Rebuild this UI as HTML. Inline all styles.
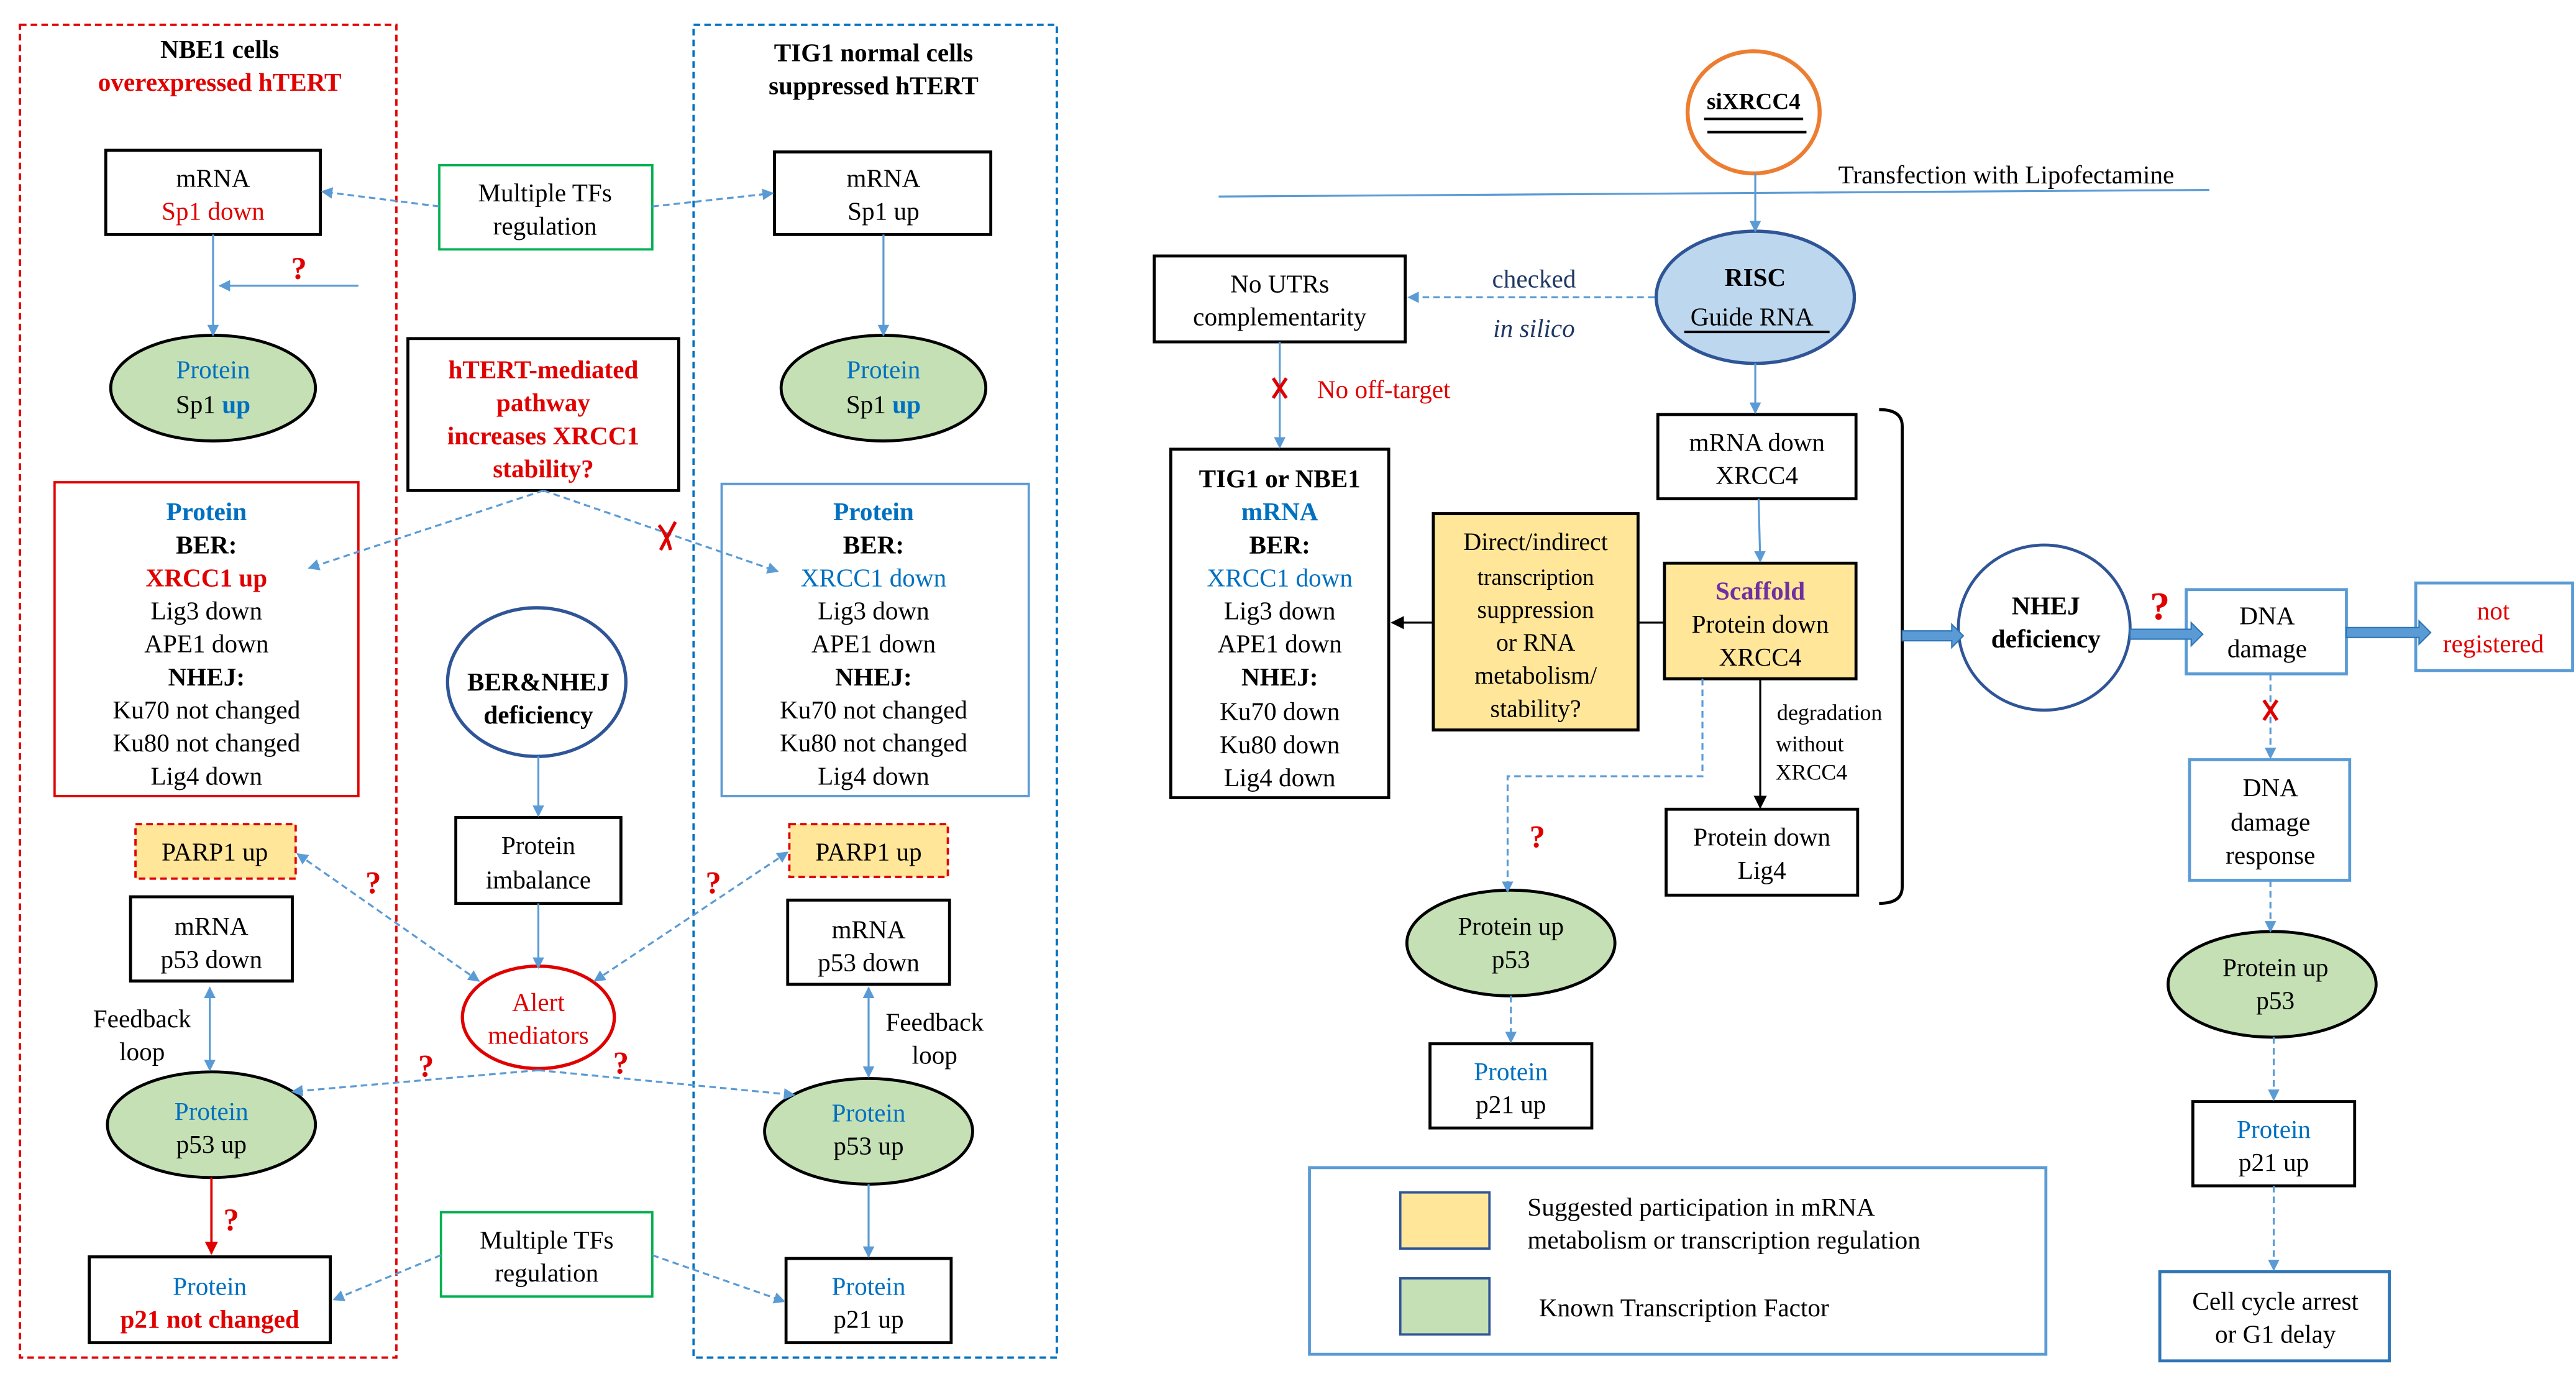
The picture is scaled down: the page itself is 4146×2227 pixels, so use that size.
<!DOCTYPE html>
<html><head><meta charset="utf-8"><style>
html,body{margin:0;padding:0;background:#fff;}
svg{display:block;}
text{font-family:"Liberation Serif",serif;font-size:15.5px;text-anchor:middle;fill:#000;}
.b{font-weight:bold;}
.r{fill:#e00000;}
.bl{fill:#0070c0;}
.q{fill:#e00000;font-weight:bold;font-size:19px;}
</style></head><body>
<svg width="4146" height="2227" viewBox="0 0 1560 838" xmlns="http://www.w3.org/2000/svg">
<defs>
<marker id="a" viewBox="0 0 10 10" refX="9" refY="5" markerWidth="7" markerHeight="7" markerUnits="userSpaceOnUse" orient="auto-start-reverse"><path d="M0,0L10,5L0,10z" fill="#5b9bd5"/></marker>
<marker id="ar" viewBox="0 0 10 10" refX="9" refY="5" markerWidth="8" markerHeight="8" markerUnits="userSpaceOnUse" orient="auto"><path d="M0,0L10,5L0,10z" fill="#e00000"/></marker>
<marker id="ak" viewBox="0 0 10 10" refX="9" refY="5" markerWidth="8" markerHeight="8" markerUnits="userSpaceOnUse" orient="auto"><path d="M0,0L10,5L0,10z" fill="#000"/></marker>
</defs>
<rect width="1560" height="838" fill="#fff"/>
<g fill="none" stroke-width="1.4">
<rect x="12" y="15" width="228" height="807" stroke="#e00000" stroke-dasharray="4,2.5"/>
<rect x="420" y="15" width="220" height="807" stroke="#0070c0" stroke-dasharray="4,2.5"/>
</g>
<text x="133" y="35" class="b">NBE1 cells</text>
<text x="133" y="55" class="b r">overexpressed hTERT</text>
<text x="529" y="37" class="b">TIG1 normal cells</text>
<text x="529" y="57" class="b">suppressed hTERT</text>

<g stroke="#000" stroke-width="1.8" fill="#fff">
<rect x="64" y="91" width="130" height="51"/>
<rect x="469" y="92" width="131" height="50"/>
<rect x="247" y="205" width="164" height="92"/>
<rect x="79" y="543" width="98" height="51"/>
<rect x="276" y="495" width="100" height="52"/>
<rect x="477" y="545" width="98" height="51"/>
<rect x="54" y="761" width="146" height="52"/>
<rect x="476" y="762" width="100" height="51"/>
<rect x="699" y="155" width="152" height="52"/>
<rect x="709" y="272" width="132" height="211"/>
<rect x="1004" y="251" width="120" height="51"/>
<rect x="1009" y="490" width="116" height="52"/>
<rect x="866" y="632" width="98" height="51"/>
</g>
<g stroke-width="1.8">
<rect x="868" y="311" width="124" height="131" fill="#ffe699" stroke="#000"/>
<rect x="1008" y="341" width="116" height="70" fill="#ffe699" stroke="#000"/>
<ellipse cx="129" cy="235" rx="62" ry="32" fill="#c5e0b4" stroke="#000"/>
<ellipse cx="535" cy="235" rx="62" ry="32" fill="#c5e0b4" stroke="#000"/>
<ellipse cx="128" cy="681" rx="63" ry="32" fill="#c5e0b4" stroke="#000"/>
<ellipse cx="526" cy="685" rx="63" ry="32" fill="#c5e0b4" stroke="#000"/>
<ellipse cx="915" cy="571" rx="63" ry="32" fill="#c5e0b4" stroke="#000"/>
<ellipse cx="1376" cy="596" rx="63" ry="32" fill="#c5e0b4" stroke="#000"/>
</g>
<g stroke-width="1.4" fill="none">
<rect x="266" y="100" width="129" height="51" stroke="#00b050"/>
<rect x="267" y="734" width="128" height="51" stroke="#00b050"/>
<rect x="33" y="292" width="184" height="190" stroke="#e00000"/>
<rect x="437" y="293" width="186" height="189" stroke="#5b9bd5"/>
<rect x="82" y="499" width="97" height="33" stroke="#e00000" fill="#ffe699" stroke-dasharray="4,2.5"/>
<rect x="478" y="499" width="96" height="32" stroke="#e00000" fill="#ffe699" stroke-dasharray="4,2.5"/>
<ellipse cx="325" cy="413" rx="54" ry="45" stroke="#2f5597" stroke-width="2"/>
<ellipse cx="326" cy="616" rx="46" ry="31" stroke="#e00000" stroke-width="2"/>
<ellipse cx="1062" cy="68" rx="40" ry="37" stroke="#ed7d31" stroke-width="2.4"/>
<ellipse cx="1063" cy="180" rx="60" ry="40" stroke="#2f5597" stroke-width="2" fill="#bdd7ee"/>
<ellipse cx="1238" cy="380" rx="52" ry="50" stroke="#2f5597" stroke-width="1.8"/>
<rect x="1324" y="357" width="97" height="51" stroke="#5b9bd5" stroke-width="1.8"/>
<rect x="1463" y="353" width="95" height="53" stroke="#5b9bd5" stroke-width="1.8"/>
<rect x="1326" y="460" width="97" height="73" stroke="#5b9bd5" stroke-width="1.8"/>
<rect x="1328" y="667" width="98" height="51" stroke="#000" stroke-width="1.8"/>
<rect x="1308" y="770" width="139" height="54" stroke="#2e75b6" stroke-width="1.8"/>
<rect x="793" y="707" width="446" height="113" stroke="#5b9bd5" stroke-width="1.8"/>
<rect x="848" y="722" width="54" height="34" stroke="#2f5597" fill="#ffe699"/>
<rect x="848" y="774" width="54" height="34" stroke="#2f5597" fill="#c5e0b4"/>
</g>

<!-- solid blue arrows -->
<g stroke="#5b9bd5" stroke-width="1.2" fill="none" marker-end="url(#a)">
<line x1="129" y1="142" x2="129" y2="203"/>
<line x1="217" y1="173" x2="133" y2="173"/>
<line x1="535" y1="142" x2="535" y2="203"/>
<line x1="326" y1="458" x2="326" y2="494"/>
<line x1="326" y1="547" x2="326" y2="586"/>
<line x1="526" y1="717" x2="526" y2="761"/>
<line x1="1063" y1="105" x2="1063" y2="140"/>
<line x1="1063" y1="220" x2="1063" y2="250"/>
<line x1="1065" y1="302" x2="1066" y2="340"/>
<line x1="775" y1="207" x2="775" y2="271"/>
<line x1="127" y1="598" x2="127" y2="648" marker-start="url(#a)"/>
<line x1="526" y1="598" x2="526" y2="652" marker-start="url(#a)"/>
</g>
<line x1="738" y1="119" x2="1338" y2="115" stroke="#5b9bd5" stroke-width="1.2"/>
<!-- dashed blue arrows -->
<g stroke="#5b9bd5" stroke-width="1.2" fill="none" stroke-dasharray="4,2.5" marker-end="url(#a)">
<line x1="266" y1="125" x2="195" y2="116"/>
<line x1="395" y1="125" x2="468" y2="117"/>
<line x1="329" y1="297" x2="187" y2="344"/>
<line x1="329" y1="297" x2="471" y2="346"/>
<line x1="290" y1="594" x2="180" y2="517" marker-start="url(#a)"/>
<line x1="360" y1="594" x2="477" y2="516" marker-start="url(#a)"/>
<line x1="326" y1="648" x2="177" y2="661"/>
<line x1="326" y1="648" x2="481" y2="663"/>
<line x1="267" y1="760" x2="202" y2="787"/>
<line x1="395" y1="760" x2="475" y2="788"/>
<line x1="1002" y1="180" x2="853" y2="180"/>
<polyline points="1031,411 1031,470 913,470 913,540"/>
<line x1="915" y1="603" x2="915" y2="631"/>
<line x1="1375" y1="408" x2="1375" y2="459"/>
<line x1="1375" y1="533" x2="1375" y2="564"/>
<line x1="1377" y1="628" x2="1377" y2="666"/>
<line x1="1377" y1="718" x2="1377" y2="769"/>
</g>
<line x1="128" y1="713" x2="128" y2="759" stroke="#e00000" stroke-width="1.4" marker-end="url(#ar)"/>
<g stroke="#000" stroke-width="1.2" fill="none">
<line x1="1008" y1="377" x2="992" y2="377"/>
<line x1="868" y1="377" x2="843" y2="377" marker-end="url(#ak)"/>
<line x1="1066" y1="411" x2="1066" y2="489" marker-end="url(#ak)"/>
<path d="M1138,248 Q1152,248 1152,258 L1152,537 Q1152,547 1138,547" stroke-width="1.8"/>
<line x1="1032" y1="72" x2="1092" y2="72" stroke-width="1.5"/>
<line x1="1034" y1="80" x2="1094" y2="80" stroke-width="1.5"/>
<line x1="1020" y1="201" x2="1108" y2="201" stroke-width="1.5"/>
</g>
<!-- thick arrows -->
<g fill="#5b9bd5" stroke="#2e75b6" stroke-width="0.8">
<path d="M1152,382 L1182,382 L1182,378 L1189,385 L1182,392 L1182,388 L1152,388z"/>
<path d="M1290,381 L1327,381 L1327,377 L1334,384 L1327,391 L1327,387 L1290,387z"/>
<path d="M1421,380 L1465,380 L1465,376 L1472,383 L1465,390 L1465,386 L1421,386z"/>
</g>
<!-- red X marks -->
<g stroke="#e00000" stroke-width="2">
<line x1="400" y1="333" x2="409" y2="316"/><path d="M399,318 Q404,324 406,333" fill="none"/>
<line x1="771" y1="229" x2="779" y2="241"/><line x1="779" y1="229" x2="771" y2="241"/>
<line x1="1371" y1="424" x2="1379" y2="436"/><line x1="1379" y1="424" x2="1371" y2="436"/>
</g>
<text x="181" y="169" class="q">?</text>
<text x="226" y="541" class="q">?</text>
<text x="432" y="541" class="q">?</text>
<text x="258" y="652" class="q">?</text>
<text x="376" y="650" class="q">?</text>
<text x="140" y="745" class="q">?</text>
<text x="931" y="513" class="q">?</text>
<text x="1308" y="375" class="q" style="font-size:24px">?</text>

<text x="129" y="113">mRNA</text><text x="129" y="133" class="r">Sp1 down</text>
<text x="535" y="113">mRNA</text><text x="535" y="133">Sp1 up</text>
<text x="330" y="122">Multiple TFs</text><text x="330" y="142">regulation</text>
<text x="129" y="229" class="bl">Protein</text><text x="129" y="250">Sp1 <tspan class="b bl">up</tspan></text>
<text x="535" y="229" class="bl">Protein</text><text x="535" y="250">Sp1 <tspan class="b bl">up</tspan></text>
<g class="b r"><text x="329" y="229" class="b r">hTERT-mediated</text><text x="329" y="249" class="b r">pathway</text><text x="329" y="269" class="b r">increases XRCC1</text><text x="329" y="289" class="b r">stability?</text></g>
<text x="125" y="315" class="b bl">Protein</text><text x="125" y="335" class="b">BER:</text><text x="125" y="355" class="b r">XRCC1  up</text>
<text x="125" y="375">Lig3  down</text><text x="125" y="395">APE1  down</text><text x="125" y="415" class="b">NHEJ:</text>
<text x="125" y="435">Ku70  not changed</text><text x="125" y="455">Ku80 not changed</text><text x="125" y="475">Lig4 down</text>
<text x="529" y="315" class="b bl">Protein</text><text x="529" y="335" class="b">BER:</text><text x="529" y="355" class="bl">XRCC1  down</text>
<text x="529" y="375">Lig3  down</text><text x="529" y="395">APE1  down</text><text x="529" y="415" class="b">NHEJ:</text>
<text x="529" y="435">Ku70 not changed</text><text x="529" y="455">Ku80 not changed</text><text x="529" y="475">Lig4 down</text>
<text x="326" y="418" class="b">BER&amp;NHEJ</text><text x="326" y="438" class="b">deficiency</text>
<text x="130" y="521">PARP1 up</text><text x="526" y="521">PARP1 up</text>
<text x="326" y="517">Protein</text><text x="326" y="538">imbalance</text>
<text x="128" y="566">mRNA</text><text x="128" y="586">p53 down</text>
<text x="526" y="568">mRNA</text><text x="526" y="588">p53 down</text>
<text x="86" y="622">Feedback</text><text x="86" y="642">loop</text>
<text x="566" y="624">Feedback</text><text x="566" y="644">loop</text>
<text x="326" y="612" class="r">Alert</text><text x="326" y="632" class="r">mediators</text>
<text x="128" y="678" class="bl">Protein</text><text x="128" y="698">p53 up</text>
<text x="526" y="679" class="bl">Protein</text><text x="526" y="699">p53 up</text>
<text x="331" y="756">Multiple TFs</text><text x="331" y="776">regulation</text>
<text x="127" y="784" class="bl">Protein</text><text x="127" y="804" class="b r">p21 not changed</text>
<text x="526" y="784" class="bl">Protein</text><text x="526" y="804">p21 up</text>

<text x="1062" y="66" class="b" style="font-size:14px">siXRCC4</text>
<text x="1215" y="111">Transfection with Lipofectamine</text>
<text x="1063" y="173" class="b">RISC</text><text x="1061" y="197">Guide RNA</text>
<text x="775" y="177">No UTRs</text><text x="775" y="197">complementarity</text>
<text x="929" y="174" style="fill:#1f3864">checked</text>
<text x="929" y="204" style="fill:#1f3864;font-style:italic">in silico</text>
<text x="838" y="241" class="r" style="text-anchor:middle">No off-target</text>
<text x="775" y="295" class="b">TIG1 or NBE1</text><text x="775" y="315" class="b bl">mRNA</text><text x="775" y="335" class="b">BER:</text>
<text x="775" y="355" class="bl">XRCC1  down</text><text x="775" y="375">Lig3  down</text><text x="775" y="395">APE1  down</text>
<text x="775" y="415" class="b">NHEJ:</text><text x="775" y="436">Ku70  down</text><text x="775" y="456">Ku80  down</text><text x="775" y="476">Lig4  down</text>
<text x="1064" y="273">mRNA down</text><text x="1064" y="293">XRCC4</text>
<text x="1066" y="363" class="b" style="fill:#7030a0">Scaffold</text><text x="1066" y="383">Protein down</text><text x="1066" y="403">XRCC4</text>
<g style="font-size:14.5px"><text x="930" y="333" style="font-size:15px">Direct/indirect</text><text x="930" y="354" style="font-size:14px">transcription</text><text x="930" y="374" style="font-size:15px">suppression</text><text x="930" y="394" style="font-size:15px">or RNA</text><text x="930" y="414" style="font-size:15px">metabolism/</text><text x="930" y="434" style="font-size:15px">stability?</text></g>
<text x="1108" y="436" style="font-size:13.5px">degradation</text><text x="1096" y="455" style="font-size:13.5px">without</text><text x="1097" y="472" style="font-size:13.5px">XRCC4</text>
<text x="1067" y="512">Protein down</text><text x="1067" y="532">Lig4</text>
<text x="1239" y="372" class="b">NHEJ</text><text x="1239" y="392" class="b">deficiency</text>
<text x="1373" y="378">DNA</text><text x="1373" y="398">damage</text>
<text x="1510" y="375" class="r">not</text><text x="1510" y="395" class="r">registered</text>
<text x="1375" y="482">DNA</text><text x="1375" y="503">damage</text><text x="1375" y="523">response</text>
<text x="915" y="566">Protein up</text><text x="915" y="586">p53</text>
<text x="915" y="654" class="bl">Protein</text><text x="915" y="674">p21 up</text>
<text x="1378" y="591">Protein up</text><text x="1378" y="611">p53</text>
<text x="1377" y="689" class="bl">Protein</text><text x="1377" y="709">p21 up</text>
<text x="1378" y="793">Cell cycle arrest</text><text x="1378" y="813">or G1 delay</text>
<text x="925" y="736" style="text-anchor:start">Suggested participation in mRNA</text>
<text x="925" y="756" style="text-anchor:start">metabolism or transcription regulation</text>
<text x="932" y="797" style="text-anchor:start">Known Transcription Factor</text>
</svg>
</body></html>
